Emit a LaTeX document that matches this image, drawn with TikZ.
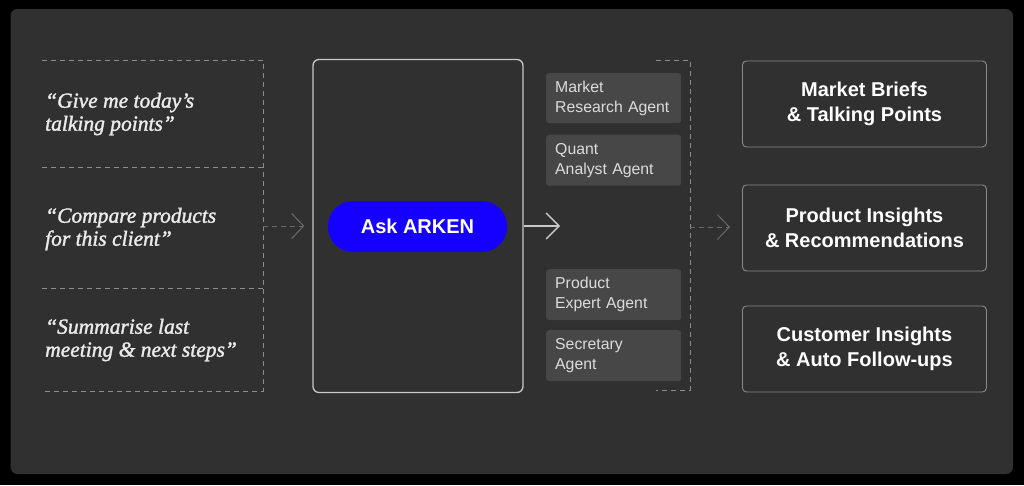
\documentclass[tikz,border=0pt]{standalone}
\usepackage{fontspec}
\setmainfont{Liberation Serif}
\setsansfont{Liberation Sans}
\newfontface\quotefont{Liberation Serif Italic}[FakeBold=1.6]
\usetikzlibrary{arrows.meta}
\definecolor{panel}{HTML}{303030}
\definecolor{dashc}{HTML}{8C8C8C}
\definecolor{arrc}{HTML}{6A6A6A}
\definecolor{agentfill}{HTML}{474747}
\definecolor{agenttext}{HTML}{DCDCDC}
\definecolor{outc}{HTML}{8A8A8A}
\definecolor{mainline}{HTML}{C8C8C8}
\definecolor{arkblue}{HTML}{1500FF}
\begin{document}
\begin{tikzpicture}[x=1pt,y=-1pt,
  quote/.style={font=\quotefont\fontsize{21.5}{23}\selectfont, text=white!92!black, align=left, anchor=west, inner sep=0pt},
  agent/.style={fill=agentfill, rounded corners=3pt, text width=117pt, inner xsep=9pt, inner ysep=0pt, minimum height=50pt, align=left, anchor=north west, text=agenttext, font=\sffamily\fontsize{15.8}{20}\selectfont},
  outbox/.style={draw=outc, line width=0.9pt, rounded corners=4pt, minimum width=244pt, minimum height=86pt, align=center, text=white, font=\sffamily\bfseries\fontsize{20}{25}\selectfont, anchor=north west},
  dashline/.style={draw=dashc, line width=0.9pt, dash pattern=on 5pt off 4pt},
  dasharrow/.style={draw=arrc, line width=1pt, dash pattern=on 5pt off 4pt, -{Straight Barb[length=12pt,width=25pt]}},
  solidarrow/.style={draw=mainline, line width=1.3pt, -{Straight Barb[length=13pt,width=26pt]}}
]
\useasboundingbox (0,0) rectangle (1024,485);
\fill[black] (0,0) rectangle (1024,485);
\fill[panel, rounded corners=7pt] (10.5,9) rectangle (1013,474);

% left query bracket
\draw[dashline] (42,60) -- (263,60) -- (263,391) -- (42,391);
\draw[dashline] (42,167) -- (263,167);
\draw[dashline] (42,288) -- (263,288);
\node[quote] (q1) at (45,114) {“Give me today’s\\talking points”};
\node[quote] (q2) at (45,229) {“Compare products\\for this client”};
\node[quote] (q3) at (45,340) {“Summarise last\\meeting \& next steps”};

% main box
\node[draw=mainline, line width=1.3pt, rounded corners=6pt, minimum width=210pt, minimum height=333pt, inner sep=0pt] (main) at (418,226) {};
\node[fill=arkblue, rounded corners=25pt, minimum width=179pt, minimum height=51pt, inner sep=0pt, text=white, font=\sffamily\bfseries\fontsize{20}{24}\selectfont] (ask) at (417.5,226.5) {Ask ARKEN};

\coordinate (inR) at (263,226);
\draw[dasharrow, shorten >=8pt] (inR) -- (main.west);
\coordinate (agL) at (560,226);
\draw[solidarrow] (main.east) -- (agL);

% agents
\node[agent] (a1) at (546,73) {Market\\Research Agent};
\node[agent, minimum height=51pt] (a2) at (546,134.5) {Quant\\Analyst Agent};
\node[agent, minimum height=51pt] (a3) at (546,269) {Product\\Expert Agent};
\node[agent, minimum height=51pt] (a4) at (546,330) {Secretary\\Agent};

% right bracket
\draw[dashline] (656,60) -- (690,60) -- (690,390) -- (656,390);

% outputs
\node[outbox] (o1) at (742,60.5) {Market Briefs\\\& Talking Points};
\node[outbox] (o2) at (742,184.5) {Product Insights\\\& Recommendations};
\node[outbox] (o3) at (742,305.5) {Customer Insights\\\& Auto Follow-ups};

\coordinate (brR) at (690,227);
\draw[dasharrow, shorten >=12pt] (brR) -- (o2.west |- brR);
\end{tikzpicture}
\end{document}
